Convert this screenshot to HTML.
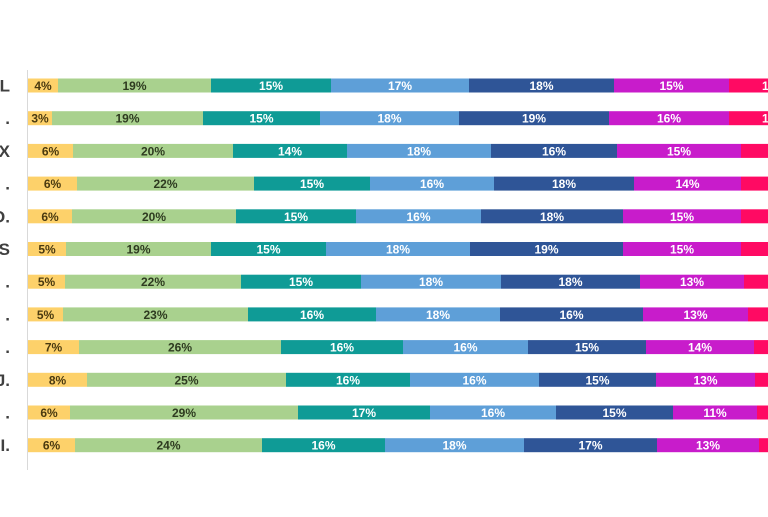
<!DOCTYPE html>
<html><head><meta charset="utf-8"><style>
body{margin:0;background:#fff;width:768px;height:512px;overflow:hidden}
text{font-family:"Liberation Sans",sans-serif;font-weight:bold}
</style></head><body>
<svg width="768" height="512" xmlns="http://www.w3.org/2000/svg">
<line x1="27.5" y1="70" x2="27.5" y2="470" stroke="#d9d9d9" stroke-width="1"/>
<g id="bars"></g>
</svg>
<script>
const rows=[
["L",[28,58,211,331,469,614,729,800],[4,19,15,17,18,15,16]],
[".",[28,52,203,320,459,609,729,800],[3,19,15,18,19,16,16]],
["X",[28,73,233,347,491,617,741,800],[6,20,14,18,16,15,16]],
[".",[28,77,254,370,494,634,741,800],[6,22,15,16,18,14,16]],
["O.",[28,72,236,356,481,623,741,800],[6,20,15,16,18,15,16]],
["S",[28,66,211,326,470,623,741,800],[5,19,15,18,19,15,16]],
[".",[28,65,241,361,501,640,744,800],[5,22,15,18,18,13,16]],
[".",[28,63,248,376,500,643,748,800],[5,23,16,18,16,13,16]],
[".",[28,79,281,403,528,646,754,800],[7,26,16,16,15,14,16]],
["J.",[28,87,286,410,539,656,755,800],[8,25,16,16,15,13,16]],
[".",[28,70,298,430,556,673,757,800],[6,29,17,16,15,11,16]],
["I.",[28,75,262,385,524,657,759,800],[6,24,16,18,17,13,16]]];
const cols=["#fdd16a","#a9d18e","#0f9b96","#5e9fd8","#2f5597","#c81ccb","#ff0a63"];
const tc=["#4a3a10","#2e3b20","#fff","#fff","#fff","#fff","#fff"];
let s="";
rows.forEach((r,i)=>{
 const cy=85.5+i*32.7;
 s+=`<text x="10" y="${cy+6}" text-anchor="end" font-size="17" fill="#404040">${r[0]}</text>`;
 for(let k=0;k<7;k++){
  const x0=r[1][k],x1=r[1][k+1];
  s+=`<rect x="${x0}" y="${cy-7}" width="${x1-x0}" height="14" fill="${cols[k]}"/>`;
  const cx=(x0+x1)/2;
  if(k<6) s+=`<text x="${cx}" y="${cy+4.5}" text-anchor="middle" font-size="12" fill="${tc[k]}">${r[2][k]}%</text>`;
  else s+=`<text x="${x0+33}" y="${cy+4.5}" text-anchor="start" font-size="12" fill="#fff">${r[2][k]}%</text>`;
 }
});
document.getElementById("bars").innerHTML=s;
</script>
</body></html>
